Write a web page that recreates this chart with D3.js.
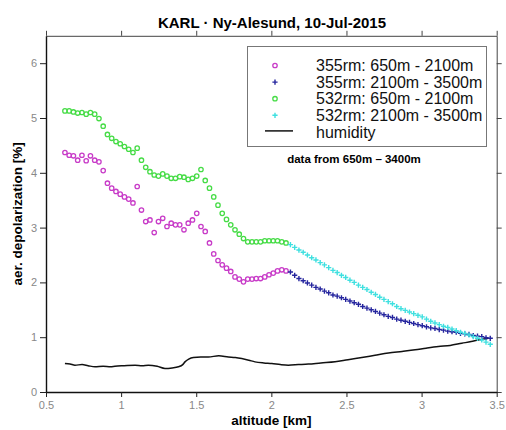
<!DOCTYPE html>
<html>
<head>
<meta charset="utf-8">
<script src="https://cdn.jsdelivr.net/npm/d3@7"></script>
<style>
  body { margin: 0; background: #fff; }
  svg { display: block; font-family: "Liberation Sans", Arial, sans-serif; }
</style>
</head>
<body>
<div id="chart"></div>
<script>
// KARL lidar depolarization profile, Ny-Alesund 10-Jul-2015

// altitude bins [km]
const lowAlt = d3.range(53).map(i => 0.626 + i * 0.0283);   // 650m - 2100m
const highAlt = d3.range(48).map(i => 2.127 + i * 0.0283);  // 2100m - 3500m

const dep355low = [4.37,4.32,4.31,4.23,4.32,4.22,4.31,4.23,4.20,4.04,3.81,3.72,3.66,3.61,3.56,3.52,3.45,3.75,3.32,3.11,
  3.14,2.91,3.11,3.17,3.02,3.08,3.05,3.05,2.96,3.08,3.14,3.26,3.02,2.93,2.72,2.52,2.40,2.32,2.26,2.20,
  2.10,2.06,2.01,2.06,2.06,2.07,2.07,2.10,2.14,2.17,2.21,2.23,2.21];
const dep532low = [5.13,5.13,5.11,5.09,5.10,5.07,5.10,5.07,4.99,4.85,4.70,4.63,4.57,4.53,4.48,4.43,4.37,4.45,4.23,4.10,
  4.02,3.96,3.94,3.98,3.94,3.90,3.90,3.93,3.92,3.88,3.90,3.94,4.06,3.86,3.72,3.56,3.41,3.26,3.15,3.05,
  2.96,2.88,2.80,2.74,2.74,2.74,2.74,2.76,2.76,2.76,2.76,2.74,2.72];
const dep355high = [2.19,2.13,2.07,2.03,1.99,1.95,1.91,1.88,1.84,1.81,1.77,1.75,1.72,1.69,1.66,1.63,1.60,1.56,1.53,1.50,
  1.47,1.44,1.41,1.38,1.36,1.33,1.31,1.29,1.27,1.25,1.23,1.21,1.19,1.17,1.16,1.14,1.13,1.11,1.10,1.09,
  1.07,1.06,1.05,1.03,1.02,1.01,0.99,0.98];
const dep532high = [2.69,2.64,2.59,2.55,2.50,2.45,2.41,2.36,2.32,2.27,2.22,2.18,2.13,2.09,2.04,2.00,1.95,1.91,1.87,1.82,
  1.78,1.73,1.69,1.65,1.61,1.56,1.52,1.49,1.46,1.43,1.40,1.37,1.33,1.29,1.26,1.23,1.20,1.18,1.15,1.12,
  1.09,1.07,1.04,1.01,0.98,0.95,0.91,0.87];

const humAlt = [0.626,0.66,0.693,0.74,0.78,0.826,0.88,0.93,0.959,1.02,1.093,1.14,1.181,1.24,1.292,1.34,1.381,1.41,1.425,1.45,
  1.481,1.53,1.581,1.65,1.714,1.76,1.803,1.85,1.891,1.95,2.003,2.06,2.113,2.18,2.246,2.33,2.424,2.51,2.602,2.69,
  2.779,2.87,2.957,3.03,3.112,3.19,3.268,3.33,3.378,3.445];
const humVal = [0.52,0.51,0.49,0.50,0.48,0.46,0.47,0.46,0.47,0.48,0.49,0.48,0.49,0.47,0.43,0.44,0.46,0.50,0.55,0.60,
  0.63,0.64,0.64,0.66,0.64,0.63,0.61,0.58,0.55,0.53,0.52,0.50,0.49,0.50,0.51,0.53,0.55,0.59,0.63,0.67,
  0.71,0.74,0.77,0.80,0.83,0.85,0.89,0.92,0.95,0.98];

const xTicks = [0.5, 1, 1.5, 2, 2.5, 3, 3.5];
const xTickLabels = ["0.5", "1", "1.5", "2", "2.5", "3", "3.5"];
const yTicks = [0, 1, 2, 3, 4, 5, 6];
const yTickLabels = ["0", "1", "2", "3", "4", "5", "6"];

const legendLabels = ["355rm: 650m - 2100m", "355rm: 2100m - 3500m", "532rm: 650m - 2100m", "532rm: 2100m - 3500m", "humidity"];

const width = 506, height = 430;
const margin = {top: 35.8, right: 9.3, bottom: 38, left: 46};

const svg = d3.select("#chart").append("svg")
  .attr("width", width)
  .attr("height", height);

const x = d3.scaleLinear().domain([0.5, 3.5]).range([margin.left, width - margin.right]);
const y = d3.scaleLinear().domain([0, 6.5]).range([height - margin.bottom, margin.top]);

const colors = {m355low: "#c83cc8", m355high: "#25259e", m532low: "#46dc46", m532high: "#3ee0e0"};

// frame top / right (mirror ticks, no labels)
svg.append("g")
  .attr("transform", `translate(0,${y(6.5)})`)
  .call(d3.axisTop(x).tickValues(xTicks).tickSize(5).tickSizeOuter(0).tickFormat(""))
  .call(g => g.selectAll("line,path").attr("stroke", "#444"));
svg.append("g")
  .attr("transform", `translate(${x(3.5)},0)`)
  .call(d3.axisRight(y).tickValues(yTicks).tickSize(5).tickSizeOuter(0).tickFormat(""))
  .call(g => g.selectAll("line,path").attr("stroke", "#444"));

// bottom / left axes
svg.append("g")
  .attr("transform", `translate(0,${y(0)})`)
  .call(d3.axisBottom(x).tickValues(xTicks).tickSize(5).tickSizeOuter(0).tickPadding(4)
    .tickFormat((d, i) => xTickLabels[i]))
  .call(g => g.select("path").attr("stroke", "#111").attr("stroke-width", 1.4))
  .call(g => g.selectAll("line").attr("stroke", "#222"))
  .call(g => g.selectAll("text").attr("fill", "#888").style("font-size", "11px"));
svg.append("g")
  .attr("transform", `translate(${x(0.5)},0)`)
  .call(d3.axisLeft(y).tickValues(yTicks).tickSize(6).tickSizeOuter(0).tickPadding(3)
    .tickFormat((d, i) => yTickLabels[i]))
  .call(g => g.select("path").attr("stroke", "#111").attr("stroke-width", 1.4))
  .call(g => g.selectAll("line").attr("stroke", "#222"))
  .call(g => g.selectAll("text").attr("fill", "#888").style("font-size", "11px"));

// humidity
const line = d3.line().x(d => x(d[0])).y(d => y(d[1])).curve(d3.curveMonotoneX);
svg.append("path")
  .datum(d3.zip(humAlt, humVal))
  .attr("d", line)
  .attr("fill", "none")
  .attr("stroke", "#111")
  .attr("stroke-width", 1.5);

const plusPath = "M-2.6,0H2.6M0,-2.6V2.6";

function circles(alt, vals, color) {
  svg.append("g").selectAll("circle")
    .data(d3.zip(alt, vals))
    .join("circle")
    .attr("cx", d => x(d[0]))
    .attr("cy", d => y(d[1]))
    .attr("r", 2.2)
    .attr("fill", "none")
    .attr("stroke", color)
    .attr("stroke-width", 1.3);
}
function pluses(alt, vals, color) {
  svg.append("g").selectAll("path")
    .data(d3.zip(alt, vals))
    .join("path")
    .attr("transform", d => `translate(${x(d[0])},${y(d[1])})`)
    .attr("d", plusPath)
    .attr("stroke", color)
    .attr("stroke-width", 1.4);
}

circles(lowAlt, dep355low, colors.m355low);
pluses(highAlt, dep355high, colors.m355high);
circles(lowAlt, dep532low, colors.m532low);
pluses(highAlt, dep532high, colors.m532high);

// title + axis labels
svg.append("text")
  .attr("x", 272).attr("y", 28)
  .attr("text-anchor", "middle")
  .style("font-size", "15px").style("font-weight", "bold")
  .text("KARL \u00b7 Ny-Alesund, 10-Jul-2015");

svg.append("text")
  .attr("x", (x(0.5) + x(3.5)) / 2).attr("y", 425)
  .attr("text-anchor", "middle")
  .style("font-size", "13.5px").style("font-weight", "bold")
  .text("altitude [km]");

svg.append("text")
  .attr("transform", `translate(22,${y(3.25)}) rotate(-90)`)
  .attr("text-anchor", "middle")
  .style("font-size", "13.5px").style("font-weight", "bold")
  .text("aer. depolarization [%]");

// legend
const legend = svg.append("g");
legend.append("rect")
  .attr("x", 247.5).attr("y", 46.5)
  .attr("width", 239).attr("height", 100)
  .attr("fill", "#fff")
  .attr("stroke", "#777")
  .attr("stroke-width", 1);

const legendColors = [colors.m355low, colors.m355high, colors.m532low, colors.m532high, "#111"];
legendLabels.forEach((label, i) => {
  const cy = 65.5 + i * 16.6;
  const g = legend.append("g").attr("transform", `translate(0,${cy})`);
  if (i === 0 || i === 2) {
    g.append("circle").attr("cx", 275).attr("cy", 0).attr("r", 2.2)
      .attr("fill", "none").attr("stroke", legendColors[i]).attr("stroke-width", 1.3);
  } else if (i === 1 || i === 3) {
    g.append("path").attr("transform", "translate(275,0)").attr("d", plusPath)
      .attr("stroke", legendColors[i]).attr("stroke-width", 1.4);
  } else {
    g.append("line").attr("x1", 265).attr("x2", 293).attr("y1", -1).attr("y2", -1)
      .attr("stroke", legendColors[i]).attr("stroke-width", 1.5);
  }
  g.append("text")
    .attr("x", 316).attr("y", 5.6)
    .style("font-size", "16px")
    .attr("fill", "#111")
    .text(label);
});

svg.append("text")
  .attr("x", 354).attr("y", 163)
  .attr("text-anchor", "middle")
  .style("font-size", "11.5px").style("font-weight", "bold")
  .text("data from 650m \u2013 3400m");
</script>
</body>
</html>
